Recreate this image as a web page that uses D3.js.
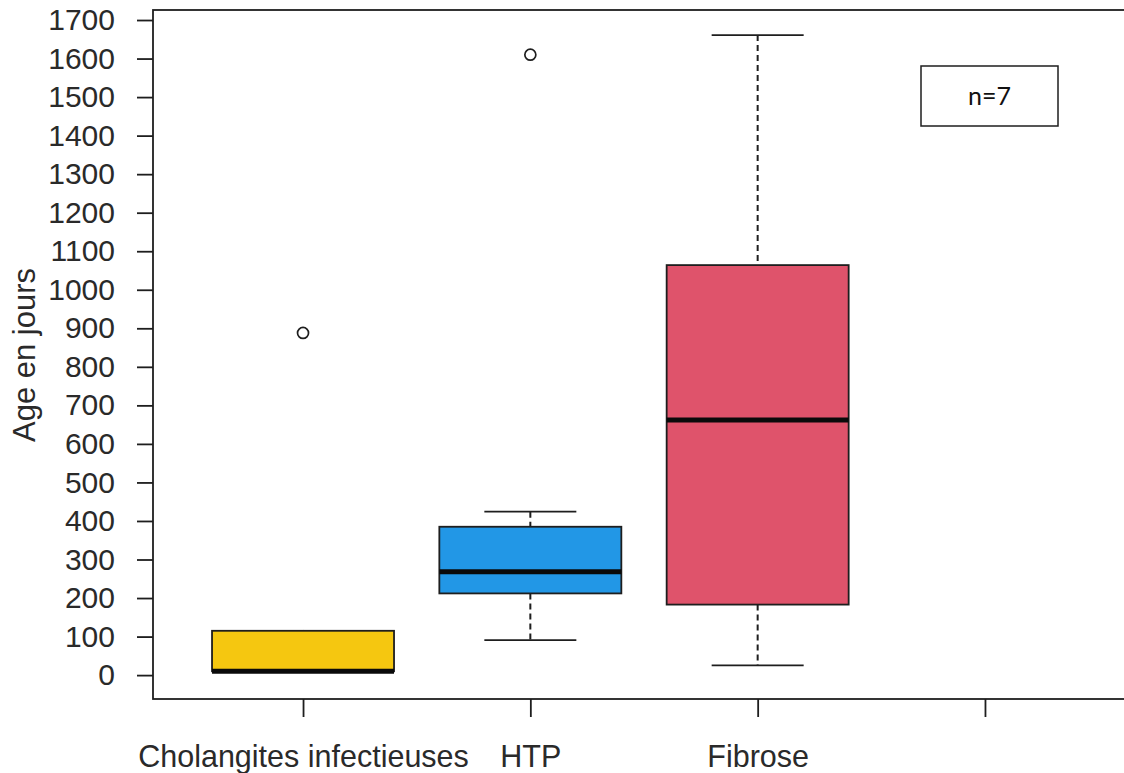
<!DOCTYPE html>
<html>
<head>
<meta charset="utf-8">
<script src="https://cdn.jsdelivr.net/npm/d3@7"></script>
<style>
  html, body { margin: 0; padding: 0; background: #fff; overflow: hidden; }
  svg { display: block; }
</style>
</head>
<body>
<svg id="chart" width="1124" height="773"></svg>
<script>
// ---- data ----
const categories = ["Cholangites infectieuses", "HTP", "Fibrose", ""];
const colors = ["#F5C710", "#2297E6", "#DF536B"];
const q1 = [10, 212, 183];
const medians = [10, 268, 662];
const q3 = [115, 385, 1064];
const whiskerLow = [10, 91, 25];
const whiskerHigh = [115, 424, 1661];
const outliers = [[888], [1610], []];
const yTicks = [0,100,200,300,400,500,600,700,800,900,1000,1100,1200,1300,1400,1500,1600,1700];
const yLabel = "Age en jours";
const noteText = "n=7";

(function () {
// ---- layout ----
const svg = d3.select("#chart");
const pLeft = 153, pRight = 1135, pTop = 10, pBottom = 699;
const x = d3.scaleLinear().domain([0.34, 4.66]).range([pLeft, pRight]);
const y = d3.scaleLinear().domain([-62, 1726]).range([pBottom, pTop]);
const boxW = 182;
const capW = 92;
const ink = "#1e1e1e";
const font = "'Liberation Sans', Arial, sans-serif";

// frame
svg.append("rect")
  .attr("x", pLeft).attr("y", pTop)
  .attr("width", pRight - pLeft).attr("height", pBottom - pTop)
  .attr("fill", "none").attr("stroke", ink).attr("stroke-width", 1.8);

// y axis
const yAxis = svg.append("g")
  .attr("transform", `translate(${pLeft},0)`)
  .call(d3.axisLeft(y).tickValues(yTicks).tickSize(16).tickPadding(22).tickFormat(d3.format("d")));
yAxis.select(".domain").remove();
yAxis.selectAll("line").attr("stroke", ink).attr("stroke-width", 1.8);
yAxis.selectAll("text").attr("font-family", font).attr("font-size", 30).attr("fill", "#2a2a2a");

// x axis
const xAxis = svg.append("g")
  .attr("transform", `translate(0,${pBottom})`)
  .call(d3.axisBottom(x).tickValues([1,2,3,4]).tickSize(18).tickPadding(28)
    .tickFormat((d) => categories[d - 1]));
xAxis.select(".domain").remove();
xAxis.selectAll("line").attr("stroke", ink).attr("stroke-width", 1.8);
xAxis.selectAll("text").attr("font-family", font).attr("font-size", 30.5).attr("fill", "#2a2a2a");

// y label
svg.append("text")
  .attr("transform", `translate(35,355) rotate(-90)`)
  .attr("text-anchor", "middle")
  .attr("font-family", font).attr("font-size", 31).attr("fill", "#2a2a2a")
  .text(yLabel);

// boxes
const groups = svg.append("g").selectAll("g")
  .data(q1.map((d, i) => ({ i, q1: q1[i], med: medians[i], q3: q3[i], lo: whiskerLow[i], hi: whiskerHigh[i], out: outliers[i] })))
  .join("g");

// whiskers (dashed)
groups.append("line")
  .attr("x1", (d) => x(d.i + 1)).attr("x2", (d) => x(d.i + 1))
  .attr("y1", (d) => y(d.hi)).attr("y2", (d) => y(d.q3))
  .attr("stroke", ink).attr("stroke-width", 2).attr("stroke-dasharray", "6,4");
groups.append("line")
  .attr("x1", (d) => x(d.i + 1)).attr("x2", (d) => x(d.i + 1))
  .attr("y1", (d) => y(d.q1)).attr("y2", (d) => y(d.lo))
  .attr("stroke", ink).attr("stroke-width", 2).attr("stroke-dasharray", "6,4");
// caps
groups.append("line")
  .attr("x1", (d) => x(d.i + 1) - capW / 2).attr("x2", (d) => x(d.i + 1) + capW / 2)
  .attr("y1", (d) => y(d.hi)).attr("y2", (d) => y(d.hi))
  .attr("stroke", ink).attr("stroke-width", 1.8);
groups.append("line")
  .attr("x1", (d) => x(d.i + 1) - capW / 2).attr("x2", (d) => x(d.i + 1) + capW / 2)
  .attr("y1", (d) => y(d.lo)).attr("y2", (d) => y(d.lo))
  .attr("stroke", ink).attr("stroke-width", 1.8);
// box
groups.append("rect")
  .attr("x", (d) => x(d.i + 1) - boxW / 2).attr("width", boxW)
  .attr("y", (d) => y(d.q3)).attr("height", (d) => y(d.q1) - y(d.q3))
  .attr("fill", (d) => colors[d.i]).attr("stroke", ink).attr("stroke-width", 1.8);
// median
groups.append("line")
  .attr("x1", (d) => x(d.i + 1) - boxW / 2).attr("x2", (d) => x(d.i + 1) + boxW / 2)
  .attr("y1", (d) => y(d.med)).attr("y2", (d) => y(d.med))
  .attr("stroke", "#0a0a0a").attr("stroke-width", 5);
// outliers
groups.selectAll("circle")
  .data((d) => d.out.map((v) => ({ i: d.i, v })))
  .join("circle")
  .attr("cx", (d) => x(d.i + 1)).attr("cy", (d) => y(d.v))
  .attr("r", 5.5).attr("fill", "none").attr("stroke", ink).attr("stroke-width", 1.7);

// note box
svg.append("rect")
  .attr("x", 921).attr("y", 66).attr("width", 137).attr("height", 60)
  .attr("fill", "#fff").attr("stroke", ink).attr("stroke-width", 1.5);
svg.append("text")
  .attr("x", 989.5).attr("y", 104.5)
  .attr("text-anchor", "middle")
  .attr("font-family", "Lato, 'Open Sans', sans-serif").attr("font-size", 25).attr("fill", "#111")
  .text(noteText);
})();
</script>
</body>
</html>
